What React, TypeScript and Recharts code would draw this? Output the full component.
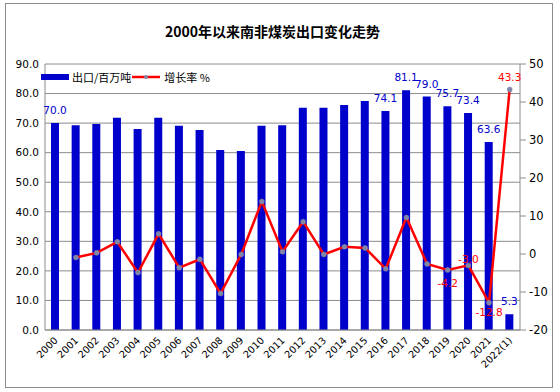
import React from 'react';
import {
  ComposedChart,
  Bar,
  Line,
  XAxis,
  YAxis,
  CartesianGrid,
  LabelList,
} from 'recharts';

const years = [
  '2000', '2001', '2002', '2003', '2004', '2005', '2006', '2007', '2008', '2009', '2010', '2011',
  '2012', '2013', '2014', '2015', '2016', '2017', '2018', '2019', '2020', '2021', '2022(1)',
];

// 出口/百万吨
const exportsMt = [
  70.0, 69.3, 69.7, 71.8, 68.0, 71.8, 69.1, 67.7, 60.9, 60.6, 69.1, 69.3,
  75.2, 75.2, 76.1, 77.5, 74.1, 81.1, 79.0, 75.7, 73.4, 63.6, 5.3,
];

// 增长率 %
const growthPct: (number | null)[] = [
  null, -0.9, 0.3, 3.2, -4.9, 5.3, -3.6, -1.4, -10.4, -0.1, 13.8, 0.6,
  8.5, -0.1, 1.9, 1.6, -3.9, 9.6, -2.6, -4.2, -3.0, -12.8, 43.3,
];

const leftTicks = [0, 10, 20, 30, 40, 50, 60, 70, 80, 90];
const rightTicks = [-20, -10, 0, 10, 20, 30, 40, 50];

const labeledExportYears = ['2000', '2016', '2017', '2018', '2019', '2020', '2021', '2022(1)'];
const labeledGrowthYears = ['2019', '2020', '2021', '2022(1)'];

const data = years.map((year, i) => ({
  year,
  exports: exportsMt[i],
  growth: growthPct[i],
}));

const FONT = '"DejaVu Sans", "Noto Sans CJK SC", sans-serif';
const BLUE = '#0000cc';
const RED = '#ff0000';

// where each red label sits relative to its point (baseline offset)
const growthLabelDy: Record<string, number> = { '2019': 17, '2020': -2, '2021': 13, '2022(1)': -8 };

const XTick = (props: any) => {
  const { x, y, payload } = props;
  const tx = x + 3;
  const ty = y + 9;
  return (
    <text
      x={tx}
      y={ty}
      textAnchor="end"
      fontSize={9.8}
      fontFamily={FONT}
      fill="#000"
      transform={`rotate(-45, ${tx}, ${ty})`}
    >
      {payload.value}
    </text>
  );
};

const ExportLabel = (props: any) => {
  const { x, y, width, value, index } = props;
  if (!labeledExportYears.includes(years[index])) return null;
  return (
    <text x={x + width / 2} y={y - 9} textAnchor="middle" fontSize={10.5} fontFamily={FONT} fill={BLUE}>
      {Number(value).toFixed(1)}
    </text>
  );
};

const GrowthLabel = (props: any) => {
  const { x, y, value, index } = props;
  const year = years[index];
  if (!labeledGrowthYears.includes(year) || value == null) return null;
  return (
    <text x={x} y={y + growthLabelDy[year]} textAnchor="middle" fontSize={10.5} fontFamily={FONT} fill={RED}>
      {Number(value).toFixed(1)}
    </text>
  );
};

export default function App() {
  return (
    <div
      style={{
        position: 'absolute',
        left: 0,
        top: 0,
        width: 560,
        height: 392,
        background: '#fff',
        fontFamily: FONT,
      }}
    >
      <div
        style={{
          position: 'absolute',
          left: 5,
          top: 3,
          width: 548,
          height: 385,
          border: '1px solid #8c8c8c',
          boxSizing: 'border-box',
        }}
      />
      <div
        style={{
          position: 'absolute',
          left: 0,
          top: 21,
          width: 545,
          textAlign: 'center',
          fontSize: 14,
          fontWeight: 'bold',
          fontFamily: '"Noto Sans CJK SC", sans-serif',
          color: '#000',
        }}
      >
        2000年以来南非煤炭出口变化走势
      </div>
      <ComposedChart
        width={560}
        height={392}
        data={data}
        margin={{ top: 64, right: 0, bottom: 0, left: 0 }}
        style={{ position: 'absolute', left: 0, top: 0 }}
      >
        <CartesianGrid vertical={false} stroke="#8c8c8c" yAxisId="left" />
        <XAxis
          dataKey="year"
          height={62}
          tick={<XTick />}
          tickLine={false}
          tickSize={0}
          axisLine={{ stroke: '#8c8c8c' }}
          interval={0}
        />
        <YAxis
          yAxisId="left"
          width={45}
          domain={[0, 90]}
          ticks={leftTicks}
          tickFormatter={(v: number) => v.toFixed(1)}
          tick={{ fill: '#000', fontSize: 10.5, fontFamily: FONT }}
          tickLine={false}
          tickSize={4}
          tickMargin={2}
          axisLine={{ stroke: '#8c8c8c' }}
        />
        <YAxis
          yAxisId="right"
          orientation="right"
          width={40}
          domain={[-20, 50]}
          ticks={rightTicks}
          tick={{ fill: '#000', fontSize: 11.5, fontFamily: FONT }}
          tickLine={{ stroke: '#8c8c8c' }}
          tickSize={6}
          tickMargin={3}
          axisLine={{ stroke: '#8c8c8c' }}
        />
        <Bar yAxisId="left" dataKey="exports" fill={BLUE} barSize={8} isAnimationActive={false}>
          <LabelList dataKey="exports" content={<ExportLabel />} />
        </Bar>
        <Line
          yAxisId="right"
          dataKey="growth"
          type="linear"
          stroke={RED}
          strokeWidth={2.5}
          dot={{ r: 2.5, fill: '#7f86a8', stroke: '#7f86a8', strokeWidth: 0.5 }}
          isAnimationActive={false}
        >
          <LabelList dataKey="growth" content={<GrowthLabel />} />
        </Line>
      </ComposedChart>
      <div
        style={{
          position: 'absolute',
          left: 41,
          top: 69,
          display: 'flex',
          alignItems: 'center',
          fontSize: 11,
          fontFamily: '"Noto Sans CJK SC", sans-serif',
          color: '#000',
          background: 'transparent',
        }}
      >
        <span style={{ display: 'inline-block', width: 28, height: 6, background: BLUE, marginRight: 3 }} />
        <span>出口/百万吨</span>
        <svg width={28} height={10} style={{ margin: '0 4px 0 1px' }}>
          <line x1={0} y1={5} x2={28} y2={5} stroke={RED} strokeWidth={2.5} />
          <circle cx={14} cy={5} r={2} fill="#7f86a8" />
        </svg>
        <span>增长率 %</span>
      </div>
    </div>
  );
}
